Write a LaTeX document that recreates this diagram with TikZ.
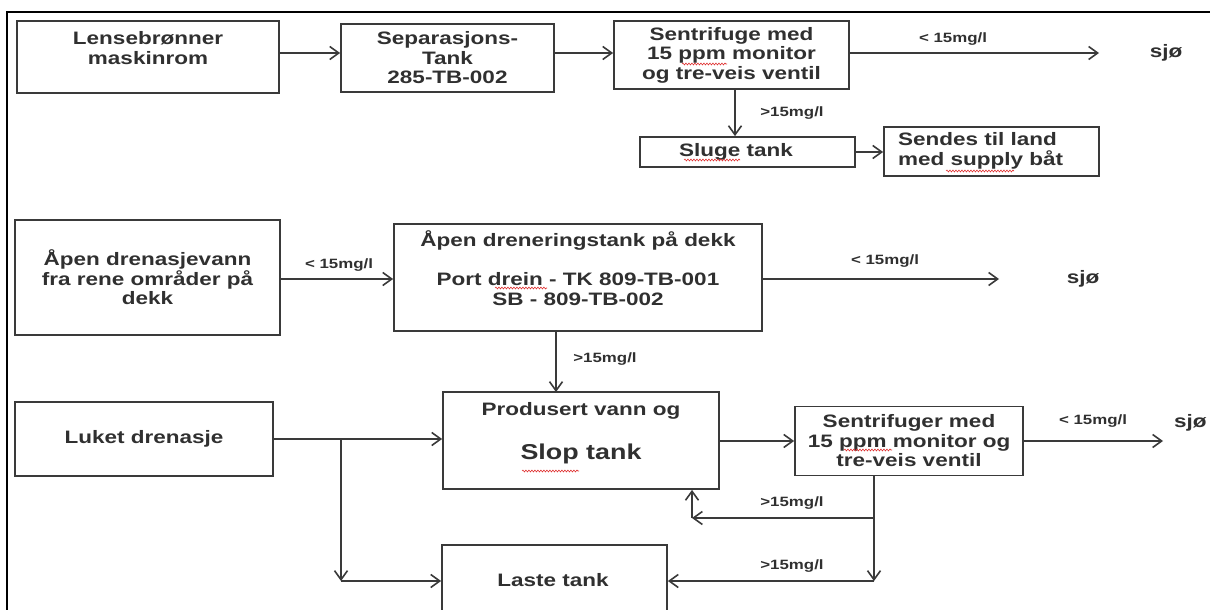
\documentclass[tikz,border=0pt]{standalone}
\usepackage{fontspec}
\setmainfont{Liberation Sans}[FakeStretch=1.25]
\usetikzlibrary{arrows.meta,decorations.pathmorphing}
\definecolor{ln}{HTML}{3A3A3A}
\definecolor{tx}{HTML}{303030}
\definecolor{sq}{HTML}{E03030}
\tikzset{
  box/.style={draw=ln, line width=1.8pt, rectangle, inner sep=0pt},
  txt/.style={text=tx, font=\fontsize{18}{19.5}\selectfont\bfseries, align=center, inner sep=0pt},
  lbl/.style={text=tx, font=\fontsize{13.5}{16}\selectfont\bfseries, inner sep=0pt},
  flow/.style={draw=ln, line width=1.6pt, -{Straight Barb[length=9pt,width=13pt]}},
  seg/.style={draw=ln, line width=1.6pt},
  frame/.style={draw=black, line width=1.3pt},
  squig/.style={draw=sq, line width=0.6pt, decorate, decoration={snake, amplitude=0.9pt, segment length=3pt}}
}
\begin{document}
\begin{tikzpicture}[x=1pt,y=-1pt]
\useasboundingbox (0,0) rectangle (1210,610);
\clip (0,0) rectangle (1210,610);
\fill[white] (0,0) rectangle (1210,610);
% outer frame
\coordinate (fa) at (7,620);
\coordinate (fb) at (7,12);
\coordinate (fc) at (1220,12);
\draw[frame] (fa) -- (fb) -- (fc);

% ---------- row 1
\node[box, minimum width=262pt, minimum height=72pt] (b1) at (148,57) {};
\node[txt] (t1) at (148,48) {Lensebrønner\\maskinrom};
\node[box, txt, minimum width=213pt, minimum height=68pt] (b2) at (447.5,58) {Separasjons-\\Tank\\285-TB-002};
\node[box, txt, minimum width=235pt, minimum height=68pt] (b3) at (731.5,55) {Sentrifuge med\\15 ppm monitor\\og tre-veis ventil};
\node[box, minimum width=215pt, minimum height=30pt] (b4) at (747.5,152) {};
\node[txt] (t4) at (736,152) {Sluge tank};
\node[box, minimum width=215pt, minimum height=49pt] (b5) at (991.5,151.5) {};
\node[txt, align=left, anchor=west] (t5) at (898,151) {Sendes til land\\med supply båt};
\coordinate (s1) at (1099,53);
\node[txt] (sj1) at (1166,53) {sjø};

\draw[flow] ([yshift=4pt]b1.east) -- ([yshift=4pt]b1.east -| b2.west);
\draw[flow] ([yshift=5pt]b2.east) -- ([yshift=5pt]b2.east -| b3.west);
\draw[flow] (b3.east |- s1) -- (s1);
\node[lbl] (l1) at (953,39) {< 15mg/l};
\draw[flow] ([xshift=3.5pt]b3.south) -- ([xshift=3.5pt]b3.south |- b4.north);
\node[lbl] (l2) at (792,113) {>15mg/l};
\draw[flow] (b4.east) -- (b4.east -| b5.west);

% ---------- row 2
\node[box, txt, minimum width=265pt, minimum height=115pt] (b6) at (147.5,277.5) {Åpen drenasjevann\\fra rene områder på\\dekk};
\node[box, minimum width=368pt, minimum height=107pt] (b7) at (578,277.5) {};
\node[txt] (t7) at (578,268) {Åpen dreneringstank på dekk\\\mbox{}\\Port drein - TK 809-TB-001\\SB - 809-TB-002};
\coordinate (s2) at (999,279);
\node[txt] (sj2) at (1083,279) {sjø};

\draw[flow] ([yshift=-1.5pt]b6.east) -- ([yshift=-1.5pt]b6.east -| b7.west);
\node[lbl] (l3) at (339,265) {< 15mg/l};
\draw[flow] (b7.east |- s2) -- (s2);
\node[lbl] (l4) at (885,261) {< 15mg/l};
\draw[flow] ([xshift=-22pt]b7.south) -- ([xshift=-22pt]b7.south |- 0,392);
\node[lbl] (l5) at (605,359) {>15mg/l};

% ---------- row 3
\node[box, minimum width=276pt, minimum height=97pt] (b8) at (581,440.5) {};
\node[txt, anchor=base] (t8a) at (581,415) {Produsert vann og};
\node[txt, anchor=base, font=\fontsize{21.5}{24}\selectfont\bfseries] (t8b) at (581,459) {Slop tank};
\node[box, txt, minimum width=258pt, minimum height=74pt] (b9) at (144,439) {Luket drenasje};
\node[box, minimum width=225pt, minimum height=70pt] (b10) at (554.5,580) {};
\node[txt] (t10) at (553,580) {Laste tank};
\node[box, txt, minimum width=228pt, minimum height=69pt] (b11) at (909,441) {Sentrifuger med\\15 ppm monitor og\\tre-veis ventil};
\coordinate (s3) at (1163,441);
\node[txt, anchor=west] (sj3) at (1174,423) {sjø};

\coordinate (j1) at (341,439);
\coordinate (j2) at (341,581);
\coordinate (j3) at (874,518);
\coordinate (j4) at (874,581);
\coordinate (j5) at (692,518);

\draw[flow] (b9.east) -- (b9.east -| b8.west);
\draw[flow] (j1) -- (j2);
\draw[flow] (j2) -- (j2 -| b10.west);
\draw[flow] (b8.east |- b11.west) -- (b11.west);
\draw[flow] (b11.east) -- (s3);
\node[lbl] (l6) at (1093,421) {< 15mg/l};
\draw[seg] (b11.south -| j3) -- (j3);
\draw[flow] (j3) -- (j4);
\draw[flow] (j3) -- (j5);
\draw[flow] (j5) -- (j5 |- b8.south);
\draw[flow] (j4) -- (j4 -| b10.east);
\node[lbl] (l7) at (792,503) {>15mg/l};
\node[lbl] (l8) at (792,566) {>15mg/l};

% spell-check squiggles
\draw[squig] (682,64) -- (727,64);
\draw[squig] (684,160) -- (740,160);
\draw[squig] (946,171) -- (1014,171);
\draw[squig] (495,288) -- (547,288);
\draw[squig] (522,471) -- (579,471);
\draw[squig] (844,450) -- (892,450);
\end{tikzpicture}
\end{document}
